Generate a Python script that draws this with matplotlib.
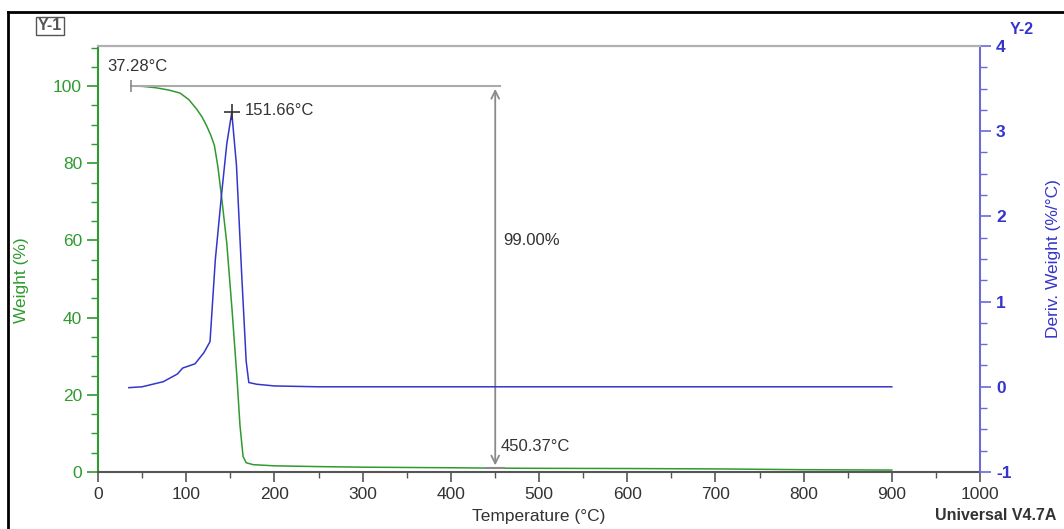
import matplotlib.pyplot as plt
from matplotlib.lines import Line2D
from matplotlib.ticker import MultipleLocator

plt.rcParams['font.family'] = ['Liberation Sans', 'DejaVu Sans']
plt.rcParams['axes.unicode_minus'] = False

# weight curve (%)
temp_w = [37.28, 50, 65, 80, 93, 103, 112, 118, 123, 128, 132, 136, 140.5, 146,
          152, 157.5, 161, 164.5, 168, 176, 200, 250, 300, 400, 450.37, 500,
          600, 700, 800, 900]
weight = [100, 99.95, 99.6, 99.0, 98.2, 96.5, 94.0, 92.0, 89.8, 87.2, 84.6, 79,
          70.5, 59.3, 42, 24.6, 12, 4, 2.4, 1.9, 1.6, 1.4, 1.25, 1.1, 1.0, 0.95,
          0.9, 0.8, 0.6, 0.5]

# derivative curve (%/°C)
temp_d = [35, 50, 74, 90, 96, 110, 120, 127, 133, 140, 146, 151.66, 157, 163,
          168, 171, 180, 200, 250, 300, 500, 700, 900]
deriv = [-0.01, 0.0, 0.06, 0.15, 0.22, 0.27, 0.4, 0.53, 1.49, 2.25, 2.85, 3.22,
         2.6, 1.3, 0.3, 0.05, 0.03, 0.01, 0.0, 0.0, 0.0, 0.0, 0.0]

start_t, peak_t, end_t = 37.28, 151.66, 450.37
loss = 99.00

green = '#2f9a2f'
blue = '#3535cc'
grey = '#8a8a8a'
dark = '#333333'

fig = plt.figure(figsize=(10.64, 5.29), dpi=100)
ax = fig.add_axes([98/1064, 1 - 472/529, 882/1064, 426/529])
ax2 = ax.twinx()

ax.plot(temp_w, weight, color=green, lw=1.1)
ax2.plot(temp_d, deriv, color=blue, lw=1.1)

ax.set_xlim(0, 1000)
ax.set_ylim(0, 110.4)
ax2.set_ylim(-1, 4)

ax.xaxis.set_major_locator(MultipleLocator(100))
ax.xaxis.set_minor_locator(MultipleLocator(50))
ax.yaxis.set_major_locator(MultipleLocator(20))
ax.yaxis.set_minor_locator(MultipleLocator(5))
ax2.yaxis.set_major_locator(MultipleLocator(1))
ax2.yaxis.set_minor_locator(MultipleLocator(0.25))

ax.tick_params(axis='x', which='major', length=7, width=1.2, color='#555555',
               labelsize=12.5, labelcolor=dark, pad=4)
ax.tick_params(axis='x', which='minor', length=4, width=1, color='#555555')
ax.tick_params(axis='y', which='major', length=8, width=1.2, color=green,
               labelsize=12.5, labelcolor=green)
ax.tick_params(axis='y', which='minor', length=5, width=1, color=green)
ax2.tick_params(axis='y', which='major', length=8, width=1.2, color='#6a6ad8',
                labelsize=12.5, labelcolor=blue)
ax2.tick_params(axis='y', which='minor', length=5, width=1, color='#6a6ad8')
for t in ax2.get_yticklabels():
    t.set_fontweight('bold')

ax.spines['left'].set_color(green)
ax.spines['bottom'].set_color('#555555')
ax.spines['top'].set_color('#b0b0b0')
ax.spines['right'].set_visible(False)
ax2.spines['right'].set_color('#6a6ad8')
ax2.spines['left'].set_visible(False)
ax2.spines['top'].set_color('#b0b0b0')
ax2.spines['bottom'].set_visible(False)
for s in list(ax.spines.values()) + list(ax2.spines.values()):
    s.set_linewidth(1.5)

ax.set_xlabel('Temperature (°C)', fontsize=12.5, color=dark, labelpad=5)
ax.set_ylabel('Weight (%)', fontsize=12.5, color=green)
ax.yaxis.set_label_coords(-0.078, 0.45)
ax2.set_ylabel('Deriv. Weight (%/°C)', fontsize=12.5, color=blue)
ax2.yaxis.set_label_coords(1.075, 0.5)

# step annotation
ax.plot([start_t, 456], [100, 100], color='#aaaaaa', lw=1.5)
ax.plot([start_t], [100], marker='|', color=grey, ms=8, mew=1.2)
ax.text(11, 105.2, f'{start_t:.2f}°C', fontsize=12, color=dark, va='center')
ax.annotate('', xy=(end_t, 100), xytext=(end_t, 100 - loss),
            arrowprops=dict(arrowstyle='<->', color=grey, lw=1.3,
                            mutation_scale=14))
ax.plot([440, 460], [100 - loss, 100 - loss], color=grey, lw=1.5)
ax.text(459, 60.1, f'{loss:.2f}%', fontsize=12, color=dark, va='center')
ax.text(456, 6.7, f'{end_t:.2f}°C', fontsize=12, color=dark, va='center')

# peak marker
ax2.plot([peak_t], [max(deriv)], marker='+', color=dark, ms=12, mew=1.2)
ax2.text(peak_t + 15, 3.24, f'{peak_t:.2f}°C', fontsize=12, color=dark,
         va='center')

# frame and corner labels
fig.add_artist(Line2D([8/1064, 8/1064], [0, 1 - 12/529], color='black', lw=2))
fig.add_artist(Line2D([8/1064, 1], [1 - 12/529, 1 - 12/529], color='black', lw=2))
fig.text(50/1064, 1 - 26/529, 'Y-1', fontsize=11.5, fontweight='bold',
         color='#555555', ha='center', va='center',
         bbox=dict(boxstyle='square,pad=0.12', fc='white', ec='#555555', lw=1))
fig.text(1022/1064, 1 - 29/529, 'Y-2', fontsize=11.5, fontweight='bold',
         color=blue, ha='center', va='center')
fig.text(996/1064, 1 - 516/529, 'Universal V4.7A', fontsize=11.5,
         fontweight='bold', color=dark, ha='center', va='center')

fig.savefig('out.png', dpi=100)
